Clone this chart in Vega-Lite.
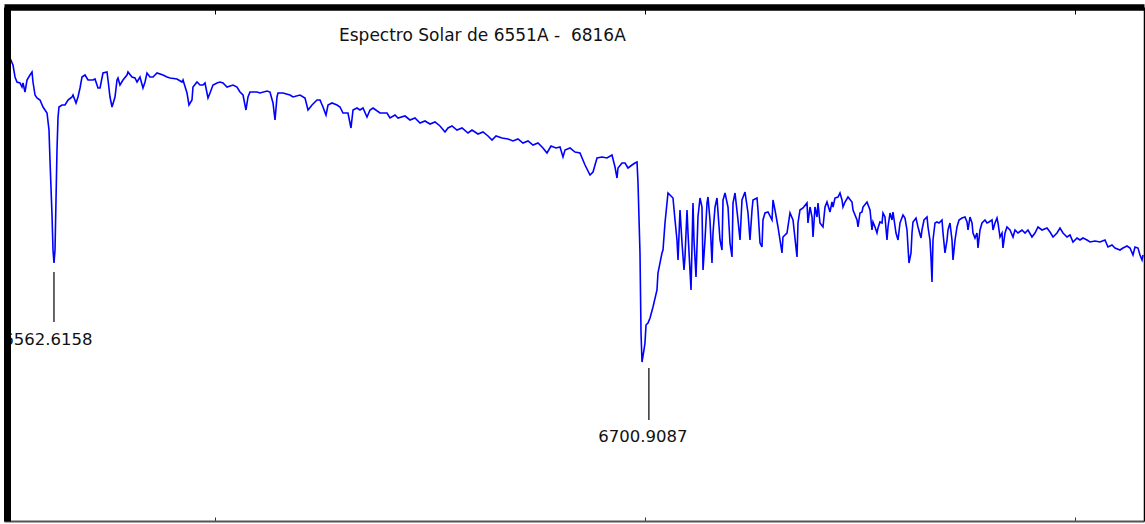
{
  "$schema": "https://vega.github.io/schema/vega-lite/v6.json",
  "width": 1140,
  "height": 514,
  "autosize": {"type": "none"},
  "padding": {"left": 4, "top": 7, "right": 1, "bottom": 3},
  "background": "white",
  "config": {"view": {"stroke": null}, "font": "DejaVu Sans"},
  "title": {
    "text": "Espectro Solar de 6551A - \u00a06816A",
    "orient": "top",
    "anchor": "start",
    "frame": "group",
    "align": "left",
    "baseline": "alphabetic",
    "dx": 335,
    "offset": -51,
    "font": "DejaVu Sans",
    "fontSize": 17,
    "fontWeight": "normal",
    "color": "#111111"
  },
  "datasets": {
    "spec": [
      {"lambda":6552.39,"flux":463},{"lambda":6553.09,"flux":456},{"lambda":6553.56,"flux":444},{"lambda":6554.02,"flux":439},
      {"lambda":6554.72,"flux":438},{"lambda":6555.18,"flux":434},{"lambda":6555.42,"flux":438},{"lambda":6555.88,"flux":429},
      {"lambda":6556.35,"flux":441},{"lambda":6557.04,"flux":446},{"lambda":6557.51,"flux":449},{"lambda":6557.74,"flux":439},
      {"lambda":6558.21,"flux":426},{"lambda":6558.67,"flux":423},{"lambda":6559.37,"flux":421},{"lambda":6560.07,"flux":414},
      {"lambda":6561.00,"flux":408},{"lambda":6561.46,"flux":391},{"lambda":6561.69,"flux":361},{"lambda":6562.16,"flux":306},
      {"lambda":6562.39,"flux":271},{"lambda":6562.62,"flux":258},{"lambda":6562.86,"flux":271},{"lambda":6563.09,"flux":321},
      {"lambda":6563.32,"flux":371},{"lambda":6563.55,"flux":403},{"lambda":6563.78,"flux":414},{"lambda":6564.48,"flux":416},
      {"lambda":6565.18,"flux":416},{"lambda":6565.88,"flux":421},{"lambda":6566.81,"flux":424},{"lambda":6567.04,"flux":426},
      {"lambda":6567.74,"flux":418},{"lambda":6568.20,"flux":424},{"lambda":6568.67,"flux":433},{"lambda":6569.13,"flux":444},
      {"lambda":6569.83,"flux":446},{"lambda":6570.53,"flux":441},{"lambda":6571.69,"flux":441},{"lambda":6572.15,"flux":442},
      {"lambda":6572.85,"flux":433},{"lambda":6573.32,"flux":433},{"lambda":6574.01,"flux":448},{"lambda":6574.94,"flux":449},
      {"lambda":6575.18,"flux":441},{"lambda":6575.64,"flux":424},{"lambda":6576.11,"flux":414},{"lambda":6576.80,"flux":424},
      {"lambda":6577.27,"flux":441},{"lambda":6577.50,"flux":443},{"lambda":6577.96,"flux":436},{"lambda":6578.66,"flux":441},
      {"lambda":6579.59,"flux":446},{"lambda":6579.82,"flux":449},{"lambda":6580.75,"flux":444},{"lambda":6581.45,"flux":443},
      {"lambda":6581.92,"flux":439},{"lambda":6582.61,"flux":444},{"lambda":6583.31,"flux":433},{"lambda":6583.78,"flux":439},
      {"lambda":6584.24,"flux":448},{"lambda":6584.94,"flux":444},{"lambda":6585.64,"flux":444},{"lambda":6586.57,"flux":448},
      {"lambda":6587.96,"flux":446},{"lambda":6588.89,"flux":444},{"lambda":6589.59,"flux":443},{"lambda":6591.21,"flux":442},
      {"lambda":6592.38,"flux":439},{"lambda":6592.61,"flux":441},{"lambda":6593.54,"flux":428},{"lambda":6594.00,"flux":416},
      {"lambda":6594.70,"flux":421},{"lambda":6594.93,"flux":434},{"lambda":6595.86,"flux":439},{"lambda":6596.56,"flux":436},
      {"lambda":6597.26,"flux":436},{"lambda":6597.72,"flux":438},{"lambda":6598.42,"flux":423},{"lambda":6598.89,"flux":428},
      {"lambda":6599.58,"flux":436},{"lambda":6600.51,"flux":438},{"lambda":6601.21,"flux":439},{"lambda":6601.91,"flux":438},
      {"lambda":6602.84,"flux":434},{"lambda":6604.23,"flux":436},{"lambda":6605.16,"flux":434},{"lambda":6605.86,"flux":429},
      {"lambda":6606.56,"flux":426},{"lambda":6607.25,"flux":411},{"lambda":6607.72,"flux":424},{"lambda":6608.18,"flux":429},
      {"lambda":6609.81,"flux":429},{"lambda":6610.51,"flux":428},{"lambda":6612.14,"flux":430},{"lambda":6612.83,"flux":429},
      {"lambda":6613.53,"flux":418},{"lambda":6614.00,"flux":401},{"lambda":6614.46,"flux":424},{"lambda":6614.69,"flux":428},
      {"lambda":6615.86,"flux":428},{"lambda":6617.48,"flux":426},{"lambda":6618.18,"flux":424},{"lambda":6619.81,"flux":426},
      {"lambda":6620.97,"flux":423},{"lambda":6621.67,"flux":411},{"lambda":6622.60,"flux":416},{"lambda":6623.76,"flux":421},
      {"lambda":6624.46,"flux":421},{"lambda":6625.15,"flux":414},{"lambda":6625.85,"flux":406},{"lambda":6626.32,"flux":416},
      {"lambda":6627.25,"flux":418},{"lambda":6628.41,"flux":416},{"lambda":6629.11,"flux":414},{"lambda":6629.80,"flux":408},
      {"lambda":6630.96,"flux":408},{"lambda":6631.66,"flux":393},{"lambda":6632.13,"flux":411},{"lambda":6633.06,"flux":413},
      {"lambda":6633.75,"flux":411},{"lambda":6634.45,"flux":413},{"lambda":6635.38,"flux":404},{"lambda":6636.08,"flux":411},
      {"lambda":6636.78,"flux":413},{"lambda":6638.40,"flux":408},{"lambda":6640.03,"flux":408},{"lambda":6640.73,"flux":403},
      {"lambda":6641.89,"flux":406},{"lambda":6642.59,"flux":403},{"lambda":6644.21,"flux":405},{"lambda":6645.38,"flux":401},
      {"lambda":6646.54,"flux":403},{"lambda":6647.70,"flux":398},{"lambda":6648.86,"flux":400},{"lambda":6650.03,"flux":397},
      {"lambda":6651.19,"flux":399},{"lambda":6652.35,"flux":395},{"lambda":6653.51,"flux":389},{"lambda":6654.21,"flux":393},
      {"lambda":6655.14,"flux":395},{"lambda":6656.30,"flux":391},{"lambda":6657.47,"flux":393},{"lambda":6658.86,"flux":388},
      {"lambda":6659.79,"flux":391},{"lambda":6661.18,"flux":387},{"lambda":6662.35,"flux":389},{"lambda":6663.51,"flux":385},
      {"lambda":6664.44,"flux":381},{"lambda":6665.37,"flux":385},{"lambda":6666.76,"flux":383},{"lambda":6668.16,"flux":382},
      {"lambda":6669.32,"flux":380},{"lambda":6670.48,"flux":382},{"lambda":6671.64,"flux":378},{"lambda":6672.81,"flux":380},
      {"lambda":6673.97,"flux":376},{"lambda":6675.13,"flux":378},{"lambda":6676.29,"flux":373},{"lambda":6677.22,"flux":368},
      {"lambda":6678.15,"flux":375},{"lambda":6679.32,"flux":373},{"lambda":6680.25,"flux":374},{"lambda":6680.94,"flux":364},
      {"lambda":6681.41,"flux":371},{"lambda":6682.57,"flux":373},{"lambda":6683.73,"flux":369},{"lambda":6684.89,"flux":368},
      {"lambda":6686.06,"flux":356},{"lambda":6687.22,"flux":346},{"lambda":6687.92,"flux":349},{"lambda":6688.85,"flux":363},
      {"lambda":6690.01,"flux":364},{"lambda":6691.17,"flux":363},{"lambda":6692.33,"flux":366},{"lambda":6693.03,"flux":354},
      {"lambda":6693.50,"flux":343},{"lambda":6693.73,"flux":353},{"lambda":6694.66,"flux":358},{"lambda":6695.36,"flux":358},
      {"lambda":6696.05,"flux":353},{"lambda":6696.98,"flux":356},{"lambda":6697.68,"flux":358},{"lambda":6698.15,"flux":359},
      {"lambda":6698.38,"flux":338},{"lambda":6698.84,"flux":268},{"lambda":6699.08,"flux":188},{"lambda":6699.31,"flux":159},
      {"lambda":6699.77,"flux":171},{"lambda":6700.00,"flux":178},{"lambda":6700.24,"flux":196},{"lambda":6700.70,"flux":198},
      {"lambda":6701.17,"flux":203},{"lambda":6701.86,"flux":214},{"lambda":6702.79,"flux":231},{"lambda":6703.02,"flux":248},
      {"lambda":6703.95,"flux":268},{"lambda":6704.19,"flux":271},{"lambda":6704.65,"flux":298},{"lambda":6705.35,"flux":328},
      {"lambda":6705.82,"flux":326},{"lambda":6706.51,"flux":323},{"lambda":6706.98,"flux":301},{"lambda":6707.44,"flux":281},
      {"lambda":6707.68,"flux":261},{"lambda":6708.14,"flux":311},{"lambda":6708.61,"flux":278},{"lambda":6709.07,"flux":251},
      {"lambda":6709.30,"flux":264},{"lambda":6709.77,"flux":311},{"lambda":6710.00,"flux":288},{"lambda":6710.70,"flux":231},
      {"lambda":6711.16,"flux":318},{"lambda":6711.39,"flux":281},{"lambda":6711.86,"flux":244},{"lambda":6712.32,"flux":304},
      {"lambda":6712.79,"flux":323},{"lambda":6713.25,"flux":314},{"lambda":6713.49,"flux":251},{"lambda":6713.95,"flux":281},
      {"lambda":6714.42,"flux":318},{"lambda":6714.65,"flux":324},{"lambda":6715.11,"flux":301},{"lambda":6715.58,"flux":258},
      {"lambda":6715.81,"flux":288},{"lambda":6716.28,"flux":314},{"lambda":6716.74,"flux":323},{"lambda":6717.44,"flux":281},
      {"lambda":6717.90,"flux":271},{"lambda":6718.14,"flux":321},{"lambda":6718.60,"flux":328},{"lambda":6719.30,"flux":314},
      {"lambda":6719.76,"flux":278},{"lambda":6720.23,"flux":264},{"lambda":6720.46,"flux":318},{"lambda":6720.93,"flux":328},
      {"lambda":6721.62,"flux":301},{"lambda":6722.09,"flux":281},{"lambda":6722.55,"flux":321},{"lambda":6723.25,"flux":329},
      {"lambda":6723.95,"flux":308},{"lambda":6724.41,"flux":281},{"lambda":6724.88,"flux":311},{"lambda":6725.11,"flux":321},
      {"lambda":6726.04,"flux":323},{"lambda":6726.27,"flux":311},{"lambda":6726.74,"flux":278},{"lambda":6727.20,"flux":274},
      {"lambda":6727.43,"flux":301},{"lambda":6727.90,"flux":308},{"lambda":6728.60,"flux":309},{"lambda":6729.53,"flux":301},
      {"lambda":6729.76,"flux":321},{"lambda":6730.22,"flux":311},{"lambda":6730.92,"flux":294},{"lambda":6731.85,"flux":268},
      {"lambda":6732.08,"flux":284},{"lambda":6733.01,"flux":288},{"lambda":6733.71,"flux":308},{"lambda":6734.41,"flux":301},
      {"lambda":6735.34,"flux":264},{"lambda":6735.57,"flux":298},{"lambda":6736.03,"flux":311},{"lambda":6736.73,"flux":313},
      {"lambda":6737.66,"flux":318},{"lambda":6737.89,"flux":298},{"lambda":6738.36,"flux":314},{"lambda":6738.83,"flux":304},
      {"lambda":6739.06,"flux":284},{"lambda":6739.52,"flux":314},{"lambda":6739.99,"flux":304},{"lambda":6740.22,"flux":318},
      {"lambda":6740.68,"flux":298},{"lambda":6741.38,"flux":294},{"lambda":6741.85,"flux":314},{"lambda":6742.31,"flux":319},
      {"lambda":6743.01,"flux":309},{"lambda":6743.47,"flux":319},{"lambda":6743.71,"flux":314},{"lambda":6744.17,"flux":323},
      {"lambda":6744.87,"flux":324},{"lambda":6745.33,"flux":328},{"lambda":6745.80,"flux":321},{"lambda":6746.03,"flux":314},
      {"lambda":6746.50,"flux":319},{"lambda":6747.19,"flux":324},{"lambda":6748.12,"flux":319},{"lambda":6748.36,"flux":311},
      {"lambda":6749.29,"flux":301},{"lambda":6749.52,"flux":294},{"lambda":6749.98,"flux":308},{"lambda":6750.45,"flux":309},
      {"lambda":6750.68,"flux":314},{"lambda":6751.61,"flux":319},{"lambda":6752.31,"flux":311},{"lambda":6752.77,"flux":291},
      {"lambda":6753.00,"flux":299},{"lambda":6753.47,"flux":294},{"lambda":6753.93,"flux":288},{"lambda":6754.17,"flux":293},
      {"lambda":6754.63,"flux":299},{"lambda":6755.10,"flux":298},{"lambda":6755.33,"flux":308},{"lambda":6755.79,"flux":304},
      {"lambda":6756.26,"flux":281},{"lambda":6756.49,"flux":294},{"lambda":6756.96,"flux":308},{"lambda":6757.42,"flux":301},
      {"lambda":6757.65,"flux":309},{"lambda":6758.35,"flux":288},{"lambda":6758.82,"flux":281},{"lambda":6759.28,"flux":298},
      {"lambda":6759.98,"flux":306},{"lambda":6760.44,"flux":303},{"lambda":6760.91,"flux":291},{"lambda":6761.14,"flux":274},
      {"lambda":6761.37,"flux":258},{"lambda":6761.84,"flux":268},{"lambda":6762.07,"flux":288},{"lambda":6762.30,"flux":299},
      {"lambda":6763.00,"flux":303},{"lambda":6763.46,"flux":294},{"lambda":6764.16,"flux":283},{"lambda":6764.39,"flux":291},
      {"lambda":6764.86,"flux":301},{"lambda":6765.56,"flux":304},{"lambda":6765.79,"flux":294},{"lambda":6766.25,"flux":281},
      {"lambda":6766.49,"flux":263},{"lambda":6766.72,"flux":239},{"lambda":6766.95,"flux":281},{"lambda":6767.42,"flux":298},
      {"lambda":6767.88,"flux":299},{"lambda":6768.35,"flux":298},{"lambda":6769.04,"flux":301},{"lambda":6769.28,"flux":288},
      {"lambda":6769.74,"flux":268},{"lambda":6770.21,"flux":281},{"lambda":6770.44,"flux":291},{"lambda":6770.90,"flux":298},
      {"lambda":6771.37,"flux":281},{"lambda":6771.60,"flux":261},{"lambda":6772.07,"flux":281},{"lambda":6772.53,"flux":294},
      {"lambda":6773.00,"flux":301},{"lambda":6773.69,"flux":303},{"lambda":6774.39,"flux":304},{"lambda":6774.86,"flux":299},
      {"lambda":6775.09,"flux":291},{"lambda":6775.55,"flux":304},{"lambda":6776.02,"flux":298},{"lambda":6776.25,"flux":288},
      {"lambda":6776.71,"flux":283},{"lambda":6777.18,"flux":288},{"lambda":6777.41,"flux":273},{"lambda":6777.88,"flux":291},
      {"lambda":6778.34,"flux":298},{"lambda":6779.04,"flux":301},{"lambda":6779.50,"flux":298},{"lambda":6779.97,"flux":299},
      {"lambda":6780.67,"flux":301},{"lambda":6780.90,"flux":291},{"lambda":6781.36,"flux":298},{"lambda":6781.83,"flux":303},
      {"lambda":6782.06,"flux":298},{"lambda":6782.53,"flux":284},{"lambda":6782.99,"flux":288},{"lambda":6783.22,"flux":273},
      {"lambda":6783.69,"flux":288},{"lambda":6784.15,"flux":294},{"lambda":6784.85,"flux":291},{"lambda":6785.55,"flux":284},
      {"lambda":6786.01,"flux":291},{"lambda":6786.71,"flux":288},{"lambda":6787.64,"flux":291},{"lambda":6788.34,"flux":288},
      {"lambda":6789.03,"flux":291},{"lambda":6789.96,"flux":284},{"lambda":6790.66,"flux":288},{"lambda":6791.36,"flux":294},
      {"lambda":6792.29,"flux":291},{"lambda":6793.45,"flux":293},{"lambda":6794.15,"flux":289},{"lambda":6794.85,"flux":284},
      {"lambda":6795.78,"flux":288},{"lambda":6796.47,"flux":293},{"lambda":6797.17,"flux":288},{"lambda":6798.10,"flux":284},
      {"lambda":6798.80,"flux":286},{"lambda":6799.50,"flux":279},{"lambda":6800.43,"flux":283},{"lambda":6801.12,"flux":281},
      {"lambda":6801.82,"flux":283},{"lambda":6802.75,"flux":281},{"lambda":6803.45,"flux":279},{"lambda":6804.61,"flux":280},
      {"lambda":6805.77,"flux":279},{"lambda":6806.93,"flux":281},{"lambda":6807.63,"flux":274},{"lambda":6808.56,"flux":276},
      {"lambda":6809.26,"flux":273},{"lambda":6810.42,"flux":271},{"lambda":6811.12,"flux":273},{"lambda":6812.05,"flux":275},
      {"lambda":6812.75,"flux":273},{"lambda":6813.44,"flux":266},{"lambda":6813.91,"flux":274},{"lambda":6814.60,"flux":273},
      {"lambda":6815.07,"flux":266},{"lambda":6815.54,"flux":261},{"lambda":6815.77,"flux":266}
    ],
    "marks": [
      {"lambda": 6562.6158, "label": "6562.6158", "top": 249, "bottom": 199, "text_y": 176},
      {"lambda": 6700.9087, "label": "6700.9087", "top": 153, "bottom": 101, "text_y": 79}
    ]
  },
  "resolve": {"axis": {"x": "independent", "y": "independent"}},
  "layer": [
    {
      "data": {"name": "spec"},
      "mark": {"type": "line", "color": "#0000ff", "strokeWidth": 1.6, "interpolate": "linear"},
      "encoding": {
        "x": {"field": "lambda", "type": "quantitative",
              "scale": {"domain": [6551, 6816], "nice": false, "zero": false},
              "axis": {"orient": "bottom", "values": [6600, 6700, 6800], "labels": false, "title": null, "grid": false,
                       "domainColor": "#555555", "domainWidth": 2, "tickColor": "#333333", "tickWidth": 1, "tickSize": -4, "zindex": 1}},
        "y": {"field": "flux", "type": "quantitative",
              "scale": {"domain": [0, 514], "nice": false, "zero": false},
              "axis": {"orient": "left", "ticks": false, "labels": false, "title": null, "grid": false,
                       "domainColor": "#000000", "domainWidth": 7, "offset": -3, "zindex": 1}}
      }
    },
    {
      "data": {"name": "marks"},
      "mark": {"type": "rule", "color": "#000000", "strokeWidth": 1.2},
      "encoding": {
        "x": {"field": "lambda", "type": "quantitative",
              "axis": {"orient": "top", "values": [6600, 6700, 6800], "labels": false, "title": null, "grid": false,
                       "domainColor": "#000000", "domainWidth": 6.5, "tickColor": "#000000", "tickWidth": 1, "tickSize": -7, "zindex": 1}},
        "y": {"field": "top", "type": "quantitative",
              "axis": {"orient": "right", "ticks": false, "labels": false, "title": null, "grid": false,
                       "domainColor": "#000000", "domainWidth": 1.5, "zindex": 1}},
        "y2": {"field": "bottom"}
      }
    },
    {
      "data": {"name": "marks"},
      "mark": {"type": "text", "align": "center", "baseline": "alphabetic", "dx": -6, "font": "DejaVu Sans", "fontSize": 16.5, "color": "#111111"},
      "encoding": {
        "x": {"field": "lambda", "type": "quantitative", "axis": null},
        "y": {"field": "text_y", "type": "quantitative", "axis": null},
        "text": {"field": "label"}
      }
    }
  ]
}
